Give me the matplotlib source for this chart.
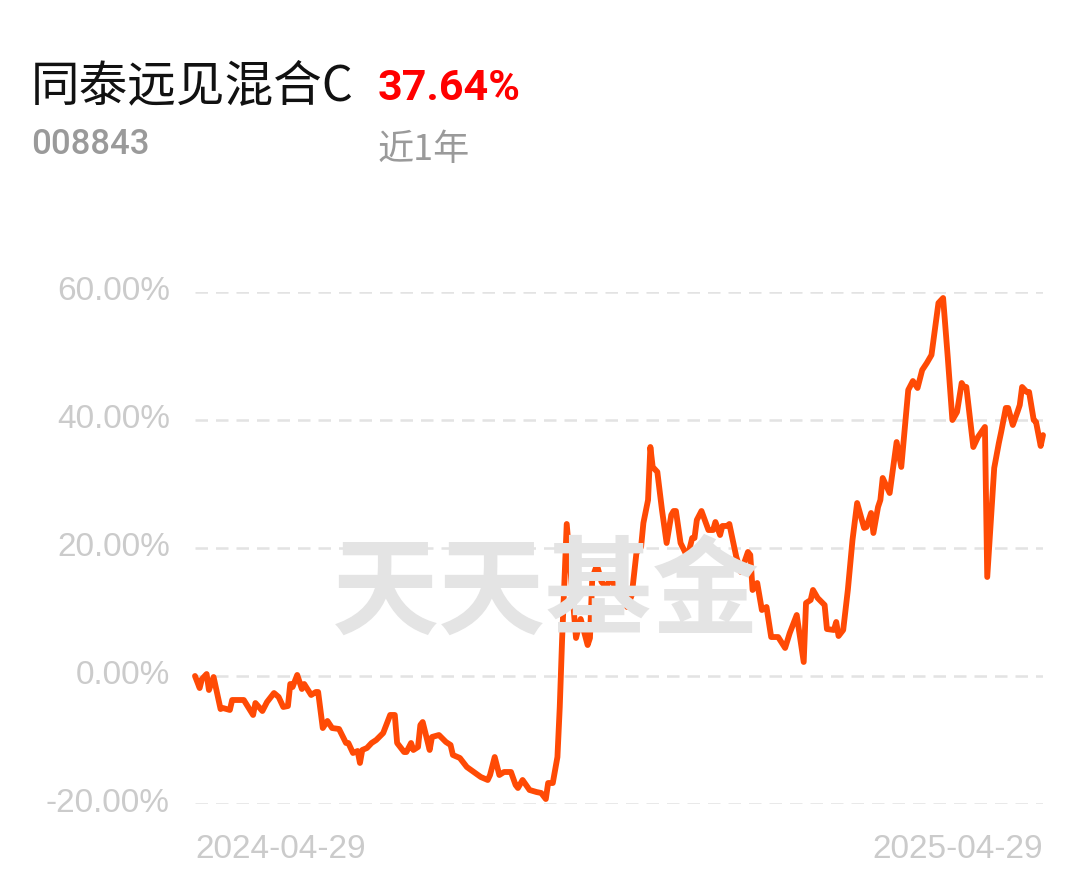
import matplotlib
matplotlib.use("Agg")
import matplotlib.pyplot as plt
import pandas as pd

# ---- data ----
fund_name = "同泰远见混合C"
fund_code = "008843"
period_return = "37.64%"
period_label = "近1年"
start_date = "2024-04-29"
end_date = "2025-04-29"

day_offsets = [0, 2, 3, 5, 6, 8, 11, 12, 15, 16, 21, 25, 26, 29, 31, 34, 36, 38, 40, 41,
               42, 44, 46, 47, 50, 52, 53, 55, 57, 59, 62, 65, 66, 68, 70, 71, 72, 74, 76, 78,
               81, 84, 86, 87, 90, 91, 93, 94, 96, 97, 98, 101, 102, 105, 108, 110, 111, 114, 117, 120,
               123, 126, 127, 129, 131, 133, 136, 138, 139, 141, 144, 147, 149, 151, 152, 154, 156, 157, 158, 160,
               164, 166, 169, 170, 171, 173, 175, 177, 179, 182, 184, 185, 186, 188, 190, 192, 193, 195, 196, 197,
               199, 201, 203, 205, 206, 207, 209, 212, 214, 215, 216, 218, 221, 223, 224, 226, 227, 229, 230, 233,
               235, 238, 239, 240, 242, 244, 246, 248, 251, 254, 256, 259, 262, 263, 265, 266, 268, 271, 272, 275,
               276, 277, 279, 281, 283, 285, 288, 289, 291, 292, 294, 295, 296, 299, 302, 304, 307, 309, 311, 313,
               315, 317, 320, 322, 324, 326, 328, 330, 331, 332, 335, 337, 340, 341, 344, 346, 347, 349, 350, 352,
               354, 355, 356, 358, 359, 361, 362, 364, 365]

returns = [0.00, -1.88, -0.47, 0.31, -2.19, -0.16, -5.16, -5.00, -5.31, -3.75, -3.75, -6.09, -4.22, -5.47, -4.06, -2.66, -3.28, -4.84, -4.69, -1.25,
           -1.72, 0.16, -2.03, -1.25, -2.97, -2.50, -2.50, -8.13, -7.03, -8.13, -8.28, -10.47, -10.47, -12.03, -11.72, -13.59, -11.56, -11.25, -10.47, -10.00,
           -8.91, -6.09, -6.09, -10.47, -11.88, -11.88, -10.47, -11.56, -11.09, -7.66, -7.19, -11.56, -9.53, -9.22, -10.31, -10.78, -12.34, -12.81, -14.22, -15.00,
           -15.78, -16.25, -15.47, -12.66, -15.47, -15.00, -15.00, -17.03, -17.50, -16.25, -17.81, -18.13, -18.28, -19.22, -16.72, -16.72, -12.66, -4.84, 5.63, 23.75,
           5.94, 8.91, 4.84, 5.94, 15.31, 17.34, 14.69, 13.91, 15.31, 12.97, 12.19, 14.53, 10.78, 12.66, 19.22, 20.16, 23.91, 27.50, 35.78, 32.66,
           31.88, 25.94, 20.78, 25.16, 25.78, 25.78, 20.78, 18.59, 21.56, 21.56, 24.38, 25.78, 22.81, 22.81, 24.06, 22.03, 23.44, 23.44, 23.75, 18.59,
           16.25, 19.38, 18.91, 13.44, 14.53, 10.31, 10.78, 6.09, 6.09, 4.38, 6.72, 9.53, 2.19, 11.41, 11.88, 13.44, 12.19, 11.09, 7.34, 7.19,
           8.44, 6.25, 7.19, 13.44, 21.25, 27.03, 23.13, 23.28, 25.47, 22.34, 26.41, 27.50, 30.94, 28.59, 36.56, 32.66, 44.69, 46.09, 45.00, 47.81,
           48.91, 50.16, 58.28, 59.06, 49.84, 40.00, 41.25, 45.78, 45.16, 45.16, 35.78, 37.34, 38.91, 15.47, 32.50, 36.41, 38.13, 41.88, 41.88, 39.22,
           41.25, 42.34, 45.16, 44.38, 44.38, 40.00, 39.69, 35.94, 37.64]

y_ticks = [-20, 0, 20, 40, 60]
y_tick_labels = ["-20.00%", "0.00%", "20.00%", "40.00%", "60.00%"]

dates = pd.Timestamp(start_date) + pd.to_timedelta(day_offsets, unit="D")

# ---- figure ----
W, H = 1089, 881
fig = plt.figure(figsize=(W / 100, H / 100), dpi=100)
fig.patch.set_facecolor("white")

def fx(px):
    return px / W

def fy(py):
    return 1 - py / H

ax_left, ax_right, ax_top, ax_bottom = 195, 1043, 292, 804
ax = fig.add_axes([fx(ax_left), fy(ax_bottom), fx(ax_right - ax_left), (ax_bottom - ax_top) / H])
ax.set_facecolor("none")
for s in ax.spines.values():
    s.set_visible(False)

ax.plot(dates, returns, color="#FF4A05", linewidth=4.2, solid_joinstyle="round",
        solid_capstyle="round", zorder=3, clip_on=False)

ax.set_ylim(-20, 60)
ax.set_xlim(pd.Timestamp(start_date), pd.Timestamp(end_date))
for v in y_ticks:
    ax.axhline(v, color="#e3e3e3", linewidth=1.8, linestyle=(0, (5, 3.2)), zorder=1)
ax.set_xticks([])
ax.set_yticks([])

# y tick labels
cjk = ["Noto Sans CJK SC", "DejaVu Sans"]
num_font = ["Roboto", "DejaVu Sans"]
axis_font = ["Liberation Sans", "DejaVu Sans"]
for v, lab in zip(y_ticks, y_tick_labels):
    ax.text(-0.0295, v, lab, transform=ax.get_yaxis_transform(), ha="right", va="center",
            fontsize=24, color="#cbcbcb", family=axis_font)

# date labels
fig.text(fx(195), fy(849), start_date, ha="left", va="center", fontsize=24,
         color="#cbcbcb", family=axis_font)
fig.text(fx(1043), fy(849), end_date, ha="right", va="center", fontsize=24,
         color="#cbcbcb", family=axis_font)

# watermark
fig.text(fx(546), fy(594), "天天基金", ha="center", va="center", fontsize=77,
         color="#e4e4e4", family=cjk, fontweight="heavy", zorder=0)

# header
fig.text(fx(31), fy(86), fund_name, ha="left", va="center", fontsize=35,
         color="#111111", family=cjk)
fig.text(fx(378), fy(88), period_return, ha="left", va="center", fontsize=31,
         color="#ff0000", family=num_font, fontweight="bold")
fig.text(fx(31), fy(145), fund_code, ha="left", va="center", fontsize=25,
         color="#9a9a9a", family=num_font, fontweight="medium")
fig.text(fx(378), fy(150), period_label, ha="left", va="center", fontsize=26,
         color="#9a9a9a", family=cjk)

fig.savefig("out.png", dpi=100, facecolor="white")
